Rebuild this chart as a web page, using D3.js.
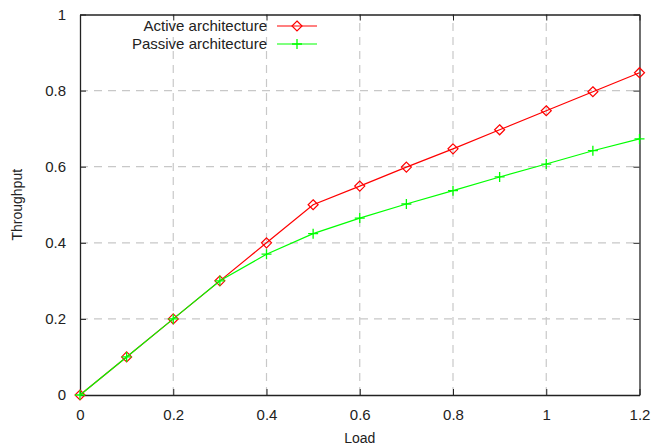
<!DOCTYPE html>
<html>
<head>
<meta charset="utf-8">
<script src="https://cdn.jsdelivr.net/npm/d3@7"></script>
<style>
body { margin: 0; background: #fff; }
text { font-family: "Liberation Sans", Arial, sans-serif; fill: #222; }
</style>
</head>
<body>
<svg id="chart"></svg>
<script>
let W = 652, H = 448
let loads = [0, 0.1, 0.2, 0.3, 0.4, 0.5, 0.6, 0.7, 0.8, 0.9, 1.0, 1.1, 1.2]
let active = [0, 0.1, 0.2, 0.3, 0.4, 0.5, 0.549, 0.599, 0.647, 0.697, 0.747, 0.797, 0.847]
let passive = [0, 0.1, 0.2, 0.3, 0.37, 0.424, 0.465, 0.502, 0.537, 0.573, 0.607, 0.642, 0.673]
let xTicks = [0, 0.2, 0.4, 0.6, 0.8, 1, 1.2]
let yTicks = [0, 0.2, 0.4, 0.6, 0.8, 1]

let svg = d3.select('#chart').attr('width', W).attr('height', H)
let m = {left: 80, right: 12.5, top: 14.5, bottom: 53}

let x = d3.scaleLinear().domain([0, 1.2]).range([m.left, W - m.right])
let y = d3.scaleLinear().domain([0, 1]).range([H - m.bottom, m.top])

//grid
let grid = svg.append('g')
grid.selectAll('.gx').data(xTicks.slice(1, -1)).enter().append('line')
  .attr('x1', d => x(d)).attr('x2', d => x(d))
  .attr('y1', y(0)).attr('y2', y(1))
  .attr('stroke', '#c8c8c8').attr('stroke-width', 1.2).attr('stroke-dasharray', '8,6')
grid.selectAll('.gy').data(yTicks.slice(1, -1)).enter().append('line')
  .attr('x1', x(0)).attr('x2', x(1.2))
  .attr('y1', d => y(d)).attr('y2', d => y(d))
  .attr('stroke', '#c8c8c8').attr('stroke-width', 1.2).attr('stroke-dasharray', '8,6')

//axes with inward ticks on all four sides
let fmt = d => String(d)
svg.append('g').attr('transform', `translate(0,${y(0)})`)
  .call(d3.axisBottom(x).tickValues(xTicks).tickFormat(fmt).tickSizeInner(-6).tickSizeOuter(0).tickPadding(14))
svg.append('g').attr('transform', `translate(0,${y(1)})`)
  .call(d3.axisTop(x).tickValues(xTicks).tickFormat('').tickSizeInner(-6).tickSizeOuter(0))
svg.append('g').attr('transform', `translate(${x(0)},0)`)
  .call(d3.axisLeft(y).tickValues(yTicks).tickFormat(fmt).tickSizeInner(-6).tickSizeOuter(0).tickPadding(14))
svg.append('g').attr('transform', `translate(${x(1.2)},0)`)
  .call(d3.axisRight(y).tickValues(yTicks).tickFormat('').tickSizeInner(-6).tickSizeOuter(0))
svg.selectAll('.domain').attr('stroke', '#222').attr('stroke-width', 1.3)
svg.selectAll('.tick line').attr('stroke', '#222')
svg.selectAll('.tick text').attr('font-size', 15).attr('font-family', '"Liberation Sans", Arial, sans-serif').attr('fill', '#222')

//labels
svg.append('text').text('Load').attr('x', (x(0) + x(1.2)) / 2).attr('y', 443)
  .attr('text-anchor', 'middle').attr('font-size', 14)
svg.append('text').text('Throughput')
  .attr('transform', `translate(22,${(y(0) + y(1)) / 2}) rotate(-90)`)
  .attr('text-anchor', 'middle').attr('font-size', 14)

//series
let line = d3.line().x((d, i) => x(loads[i])).y(d => y(d))

function drawCross(g, cx, cy) {
  g.append('path').attr('d', `M${cx - 5},${cy}H${cx + 5}M${cx},${cy - 5}V${cy + 5}`)
    .attr('stroke', '#00ff00').attr('stroke-width', 1.3).attr('fill', 'none')
}
function drawDiamond(g, cx, cy) {
  g.append('path').attr('d', `M${cx},${cy - 5}L${cx + 5},${cy}L${cx},${cy + 5}L${cx - 5},${cy}Z`)
    .attr('stroke', '#ff0000').attr('stroke-width', 1.2).attr('fill', 'none')
}

let sA = svg.append('g')
sA.append('path').datum(active).attr('d', line).attr('fill', 'none').attr('stroke', '#ff0000').attr('stroke-width', 1.2)
active.forEach((d, i) => drawDiamond(sA, x(loads[i]), y(d)))

let sP = svg.append('g')
sP.append('path').datum(passive).attr('d', line).attr('fill', 'none').attr('stroke', '#00ff00').attr('stroke-width', 1.2)
passive.forEach((d, i) => drawCross(sP, x(loads[i]), y(d)))

//legend
let legend = [
  {name: 'Active architecture', color: '#ff0000', mark: drawDiamond},
  {name: 'Passive architecture', color: '#00ff00', mark: drawCross},
]
legend.forEach((d, i) => {
  let ly = 26 + i * 18
  svg.append('text').text(d.name).attr('x', 267).attr('y', ly + 5)
    .attr('text-anchor', 'end').attr('font-size', 15)
  svg.append('line').attr('x1', 277).attr('x2', 317).attr('y1', ly).attr('y2', ly)
    .attr('stroke', d.color).attr('stroke-width', 1.2)
  d.mark(svg, 297, ly)
})
</script>
</body>
</html>
